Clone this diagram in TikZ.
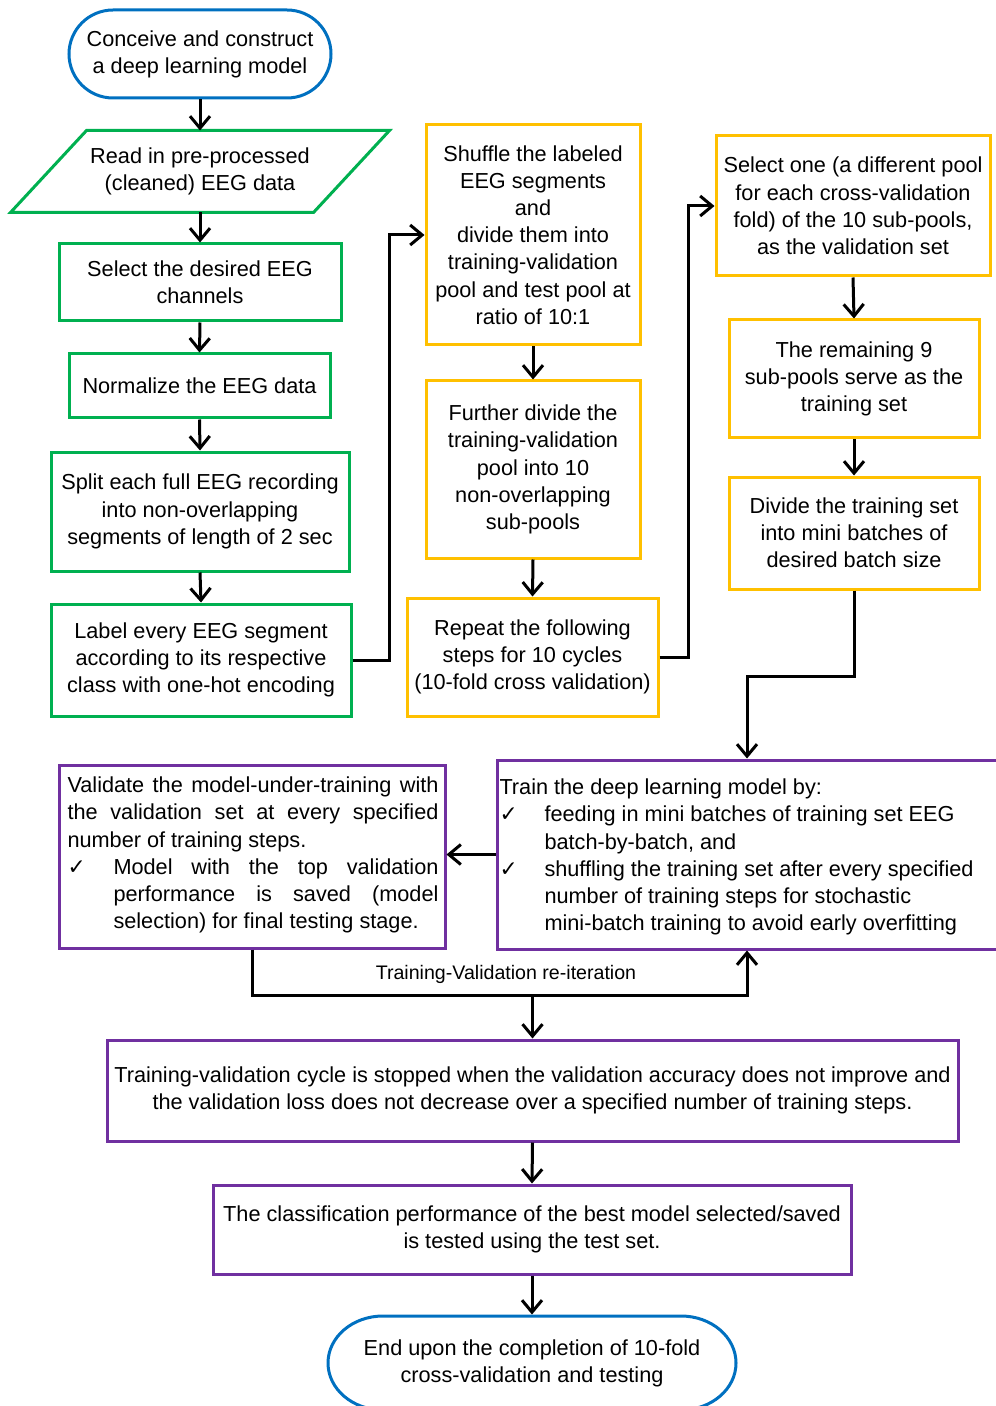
\documentclass[tikz,border=0pt]{standalone}
\usepackage{fontspec}
\setmainfont{Liberation Sans}
\newfontfamily\dejavu{DejaVu Sans}
\usetikzlibrary{arrows.meta,calc}
\newcommand\ckmk{{\dejavu\char"2713}}
\definecolor{cblue}{HTML}{0070C0}
\definecolor{cgreen}{HTML}{00B050}
\definecolor{corange}{HTML}{FFC000}
\definecolor{cpurple}{HTML}{7030A0}
\begin{document}
\begin{tikzpicture}[x=0.5pt,y=-0.5pt,
  base/.style={font=\fontsize{10.85pt}{13.6pt}\selectfont, align=center, inner sep=0pt, line width=1.5pt},
  gbox/.style={base, draw=cgreen, rectangle},
  obox/.style={base, draw=corange, rectangle},
  pbox/.style={base, draw=cpurple, rectangle},
  arr/.style={line width=1.5pt, -{Straight Barb[length=6pt,width=10pt]}},
  shapeline/.style={line width=1.5pt}]
\useasboundingbox (0,0) rectangle (995,1406);

% left column
\node[base, draw=cblue, rounded corners=22pt, minimum width=131pt, minimum height=44pt] (start) at (200,54) {Conceive and construct\\a deep learning model};
\node[base, minimum width=150pt, minimum height=39.5pt] (read) at (200,171.5) {Read in pre-processed\\(cleaned) EEG data};
\draw[shapeline, draw=cgreen] ($(read.north west)+(38,0)$) -- ($(read.north east)+(38,0)$) -- ($(read.south east)+(-38,0)$) -- ($(read.south west)+(-38,0)$) -- cycle;
\node[gbox, minimum width=141pt, minimum height=38.5pt] (sel) at (200,282.5) {Select the desired EEG\\channels};
\node[gbox, minimum width=130.5pt, minimum height=32pt] (norm) at (199.5,386) {Normalize the EEG data};
\node[gbox, minimum width=149pt, minimum height=59.5pt] (split) at (200,511.5) {Split each full EEG recording\\into non-overlapping\\segments of length of 2 sec};
\node[gbox, minimum width=150pt, minimum height=56pt] (label) at (201,660) {Label every EEG segment\\according to its respective\\class with one-hot encoding};

% middle column
\node[obox, minimum width=107pt, minimum height=110pt] (shuf) at (533,235) {Shuffle the labeled\\EEG segments\\and\\divide them into\\training-validation\\pool and test pool at\\ratio of 10:1};
\node[obox, minimum width=107pt, minimum height=88.5pt] (fdiv) at (533,469.5) {Further divide the\\training-validation\\pool into 10\\non-overlapping\\sub-pools};
\node[obox, minimum width=125.5pt, minimum height=59pt] (rep) at (532.5,657) {Repeat the following\\steps for 10 cycles\\(10-fold cross validation)};

% right column
\node[obox, minimum width=137pt, minimum height=70pt] (selone) at (853,206) {Select one (a different pool\\for each cross-validation\\fold) of the 10 sub-pools,\\as the validation set};
\node[obox, minimum width=125pt, minimum height=59pt] (rem) at (854,379) {The remaining 9\\sub-pools serve as the\\training set};
\node[obox, minimum width=125pt, minimum height=56pt] (divt) at (854,533) {Divide the training set\\into mini batches of\\desired batch size};

% training / validation
\node[pbox, minimum width=250pt, minimum height=94.5pt] (train) at (747,854.5) {};
\node[base, anchor=west, align=left] (traintxt) at (498,857) {Train the deep learning model by:\\
\makebox[22.5pt][l]{\ckmk}feeding in mini batches of training set EEG\\
\hspace*{22.5pt}batch-by-batch, and\\
\makebox[22.5pt][l]{\ckmk}shuffling the training set after every specified\\
\hspace*{22.5pt}number of training steps for stochastic\\
\hspace*{22.5pt}mini-batch training to avoid early overfitting};

\node[pbox, minimum width=193pt, minimum height=91.5pt] (val) at (252,856.5) {};
\node[base, anchor=west, align=left] (valtxt) at (66,855) {\makebox[185.5pt][s]{Validate the model-under-training with}\\
\makebox[185.5pt][s]{the validation set at every specified}\\
number of training steps.\\
\makebox[23pt][l]{\ckmk}\makebox[162.5pt][s]{Model with the top validation}\\
\hspace*{23pt}\makebox[162.5pt][s]{performance is saved (model}\\
\hspace*{23pt}selection) for final testing stage.};

\node[font=\fontsize{9.8pt}{12pt}\selectfont, inner sep=0pt] (loopl) at (506,974) {Training-Validation re-iteration};

% bottom
\node[pbox, minimum width=425.5pt, minimum height=50.5pt] (cycle) at (532.5,1090.5) {Training-validation cycle is stopped when the validation accuracy does not improve and\\the validation loss does not decrease over a specified number of training steps.};
\node[pbox, minimum width=319pt, minimum height=44.5pt] (cls) at (532,1229.5) {The classification performance of the best model selected/saved\\is tested using the test set.};
\node[base, minimum width=204pt, minimum height=47pt] (end) at (532,1363) {End upon the completion of 10-fold\\cross-validation and testing};
\draw[shapeline, draw=cblue] (383,1316) -- (681,1316)
  .. controls (711.4,1316) and (736,1337) .. (736,1363)
  .. controls (736,1389) and (711.4,1410) .. (681,1410)
  -- (383,1410)
  .. controls (352.6,1410) and (328,1389) .. (328,1363)
  .. controls (328,1337) and (352.6,1316) .. (383,1316) -- cycle;

% connectors
\draw[arr] (start.south) -- (read.north);
\draw[arr] (read.south) -- (sel.north);
\draw[arr] (sel.south) -- (norm.north);
\draw[arr] (norm.south) -- (split.north);
\draw[arr] (split.south) -- (label.north);
\draw[arr] (label.east) -- ++(37,0) |- (shuf.west);
\draw[arr] (shuf.south) -- (fdiv.north);
\draw[arr] (fdiv.south) -- (rep.north);
\draw[arr] (rep.east) -- ++(29,0) |- (selone.west);
\draw[arr] (selone.south) -- (rem.north);
\draw[arr] (rem.south) -- (divt.north);
\draw[arr] (divt.south) -- ++(0,86) -| (train.north);
\draw[arr] (train.west) -- (train.west -| val.east);
\draw[arr] (val.south) -- ++(0,46) -| (train.south);
\coordinate (lb) at (532.5,994);
\draw[arr] (lb) -- (cycle.north);
\draw[arr] (cycle.south) -- (cls.north);
\draw[arr] (cls.south) -- (end.north);
\end{tikzpicture}
\end{document}
